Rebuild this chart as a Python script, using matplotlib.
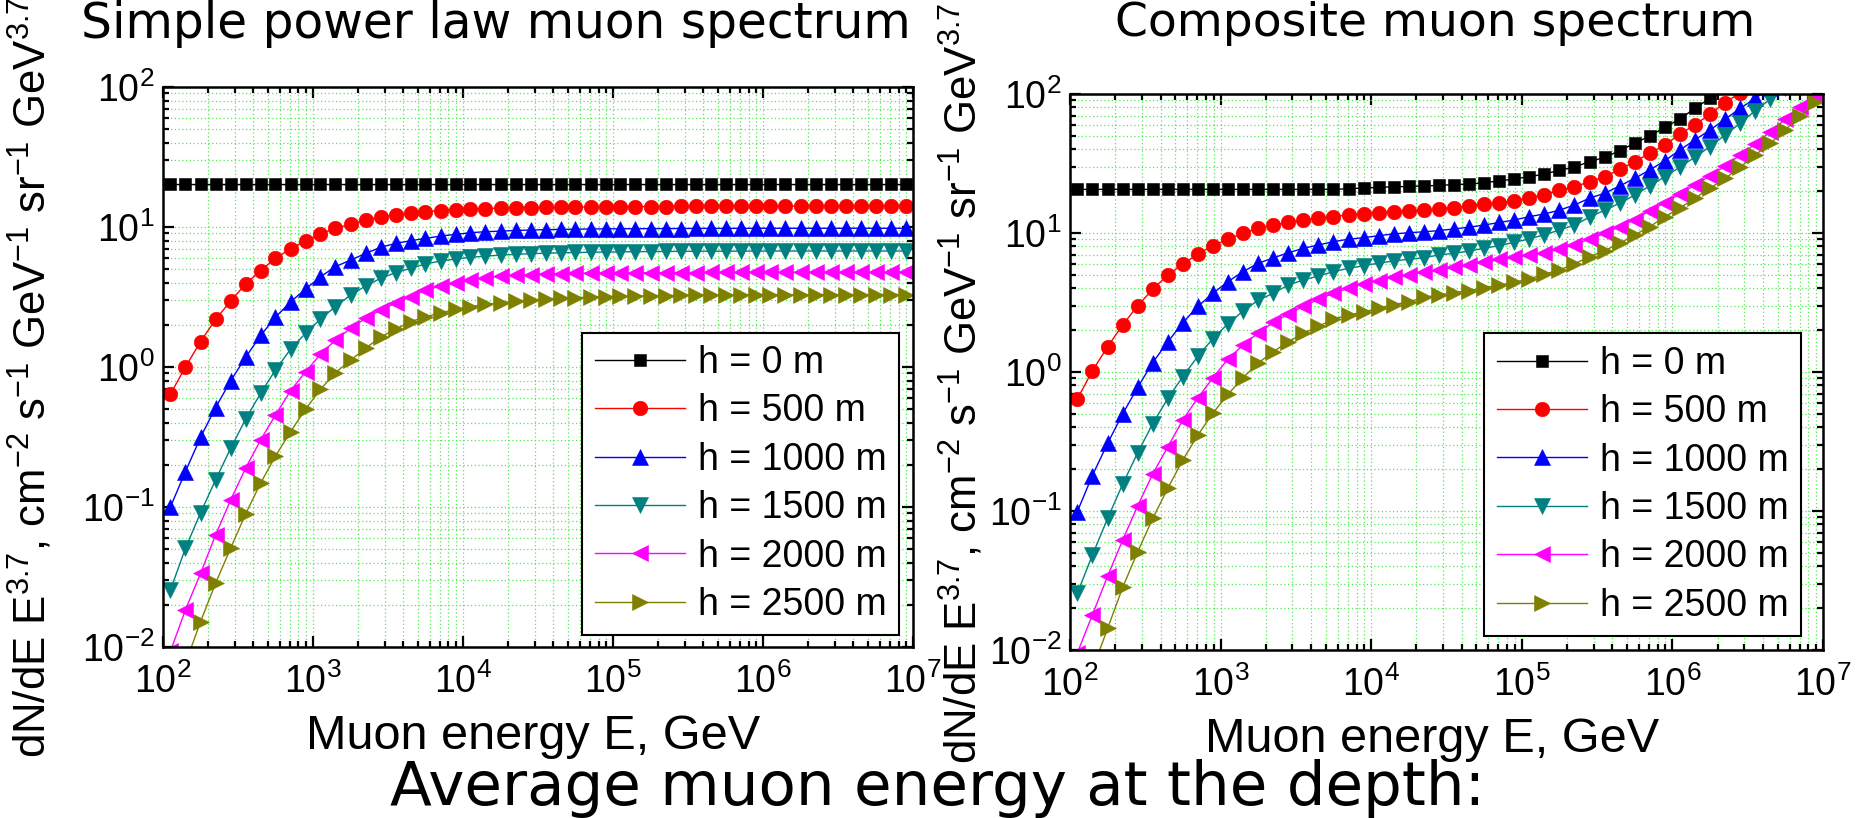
import matplotlib
matplotlib.use('Agg')
import matplotlib.pyplot as plt
from matplotlib.ticker import LogLocator, NullFormatter

plt.rcParams['font.family'] = ['Liberation Sans', 'DejaVu Sans']
plt.rcParams['mathtext.default'] = 'regular'
plt.rcParams['axes.unicode_minus'] = False

# muon energy at the depth, GeV (same grid for every curve)
energy = [
    1.12e2, 1.41e2, 1.78e2, 2.24e2, 2.82e2, 3.55e2, 4.47e2, 5.62e2, 7.08e2, 8.91e2,
    1.12e3, 1.41e3, 1.78e3, 2.24e3, 2.82e3, 3.55e3, 4.47e3, 5.62e3, 7.08e3, 8.91e3,
    1.12e4, 1.41e4, 1.78e4, 2.24e4, 2.82e4, 3.55e4, 4.47e4, 5.62e4, 7.08e4, 8.91e4,
    1.12e5, 1.41e5, 1.78e5, 2.24e5, 2.82e5, 3.55e5, 4.47e5, 5.62e5, 7.08e5, 8.91e5,
    1.12e6, 1.41e6, 1.78e6, 2.24e6, 2.82e6, 3.55e6, 4.47e6, 5.62e6, 7.08e6, 8.91e6,
]

depth_labels = ['h = 0 m', 'h = 500 m', 'h = 1000 m', 'h = 1500 m', 'h = 2000 m', 'h = 2500 m']

# simple power law spectrum, dN/dE * E^3.7
simple_h0 = [
    20.3, 20.3, 20.3, 20.3, 20.3, 20.3, 20.3, 20.3, 20.3, 20.3,
    20.3, 20.3, 20.3, 20.3, 20.3, 20.3, 20.3, 20.3, 20.3, 20.3,
    20.3, 20.3, 20.3, 20.3, 20.3, 20.3, 20.3, 20.3, 20.3, 20.3,
    20.3, 20.3, 20.3, 20.3, 20.3, 20.3, 20.3, 20.3, 20.3, 20.3,
    20.3, 20.3, 20.3, 20.3, 20.3, 20.3, 20.3, 20.3, 20.3, 20.3,
]
simple_h500 = [
    0.64, 1.00, 1.52, 2.19, 2.95, 3.92, 4.88, 5.97, 7.00, 7.98,
    8.95, 9.78, 10.5, 11.2, 11.8, 12.2, 12.6, 12.9, 13.1, 13.3,
    13.45, 13.55, 13.65, 13.7, 13.75, 13.8, 13.85, 13.9, 13.9, 13.95,
    13.95, 14.0, 14.0, 14.0, 14.05, 14.05, 14.05, 14.1, 14.1, 14.1,
    14.1, 14.1, 14.1, 14.1, 14.1, 14.1, 14.1, 14.1, 14.1, 14.1,
]
simple_h1000 = [
    0.100, 0.179, 0.315, 0.513, 0.795, 1.17, 1.68, 2.27, 2.92, 3.60,
    4.41, 5.21, 5.81, 6.48, 7.16, 7.64, 7.98, 8.30, 8.62, 8.86,
    9.11, 9.26, 9.35, 9.45, 9.52, 9.58, 9.62, 9.65, 9.68, 9.70,
    9.72, 9.73, 9.74, 9.75, 9.76, 9.77, 9.78, 9.78, 9.79, 9.79,
    9.80, 9.80, 9.80, 9.80, 9.80, 9.80, 9.80, 9.80, 9.80, 9.80,
]
simple_h1500 = [
    0.0255, 0.0507, 0.091, 0.156, 0.262, 0.423, 0.649, 0.953, 1.34, 1.74,
    2.20, 2.70, 3.27, 3.79, 4.30, 4.72, 5.07, 5.45, 5.72, 5.90,
    6.07, 6.20, 6.30, 6.38, 6.45, 6.50, 6.55, 6.58, 6.61, 6.63,
    6.65, 6.67, 6.68, 6.69, 6.70, 6.71, 6.72, 6.72, 6.73, 6.73,
    6.74, 6.74, 6.74, 6.74, 6.74, 6.74, 6.74, 6.74, 6.74, 6.74,
]
simple_h2000 = [
    0.0093, 0.0184, 0.0336, 0.063, 0.112, 0.189, 0.301, 0.454, 0.677, 0.925,
    1.23, 1.56, 1.89, 2.23, 2.55, 2.86, 3.18, 3.55, 3.79, 4.00,
    4.18, 4.34, 4.47, 4.54, 4.58, 4.61, 4.64, 4.66, 4.68, 4.69,
    4.70, 4.71, 4.72, 4.72, 4.73, 4.73, 4.74, 4.74, 4.74, 4.75,
    4.75, 4.75, 4.75, 4.75, 4.75, 4.75, 4.75, 4.75, 4.75, 4.75,
]
simple_h2500 = [
    0.0035, 0.0076, 0.0152, 0.0285, 0.0507, 0.089, 0.148, 0.231, 0.345, 0.499,
    0.693, 0.91, 1.12, 1.36, 1.64, 1.86, 2.11, 2.28, 2.44, 2.58,
    2.70, 2.80, 2.88, 2.96, 3.01, 3.06, 3.10, 3.13, 3.16, 3.18,
    3.20, 3.22, 3.23, 3.24, 3.25, 3.26, 3.27, 3.27, 3.28, 3.28,
    3.29, 3.29, 3.29, 3.29, 3.29, 3.29, 3.29, 3.29, 3.29, 3.29,
]

# composite spectrum (curves leave the frame at the top)
comp_h0 = [
    20.6, 20.6, 20.6, 20.6, 20.6, 20.6, 20.6, 20.6, 20.6, 20.6,
    20.6, 20.6, 20.6, 20.6, 20.6, 20.6, 20.6, 20.6, 20.8, 21.1,
    21.3, 21.5, 21.6, 21.8, 22.0, 22.3, 22.5, 23.0, 23.7, 24.5,
    25.4, 26.5, 28.3, 29.8, 32.6, 35.0, 39.1, 44.2, 49.9, 57.6,
    65.8, 78.9, 93.1, 110, 130,
]
comp_h500 = [
    0.64, 1.02, 1.52, 2.18, 3.00, 3.94, 4.99, 5.98, 7.06, 8.11,
    9.02, 9.96, 10.8, 11.4, 11.9, 12.4, 12.8, 13.1, 13.5, 13.8,
    14.0, 14.2, 14.4, 14.6, 14.9, 15.2, 15.6, 16.1, 16.5, 17.1,
    17.9, 18.85, 20.3, 21.5, 23.4, 25.4, 28.7, 32.6, 37.4, 42.9,
    51.5, 59.8, 71.8, 86.5, 102, 120,
]
comp_h1000 = [
    0.099, 0.180, 0.307, 0.499, 0.776, 1.17, 1.65, 2.26, 2.97, 3.68,
    4.47, 5.27, 6.05, 6.62, 7.21, 7.76, 8.20, 8.66, 9.02, 9.25,
    9.57, 9.84, 10.05, 10.2, 10.4, 10.7, 11.0, 11.4, 11.9, 12.4,
    13.1, 13.7, 14.6, 15.9, 17.8, 19.3, 21.8, 24.7, 28.4, 33.1,
    39.5, 46.7, 55.1, 65.8, 78.9, 93.1, 110,
]
comp_h1500 = [
    0.0256, 0.0482, 0.0885, 0.156, 0.263, 0.425, 0.647, 0.925, 1.30, 1.74,
    2.22, 2.74, 3.29, 3.68, 4.23, 4.59, 4.91, 5.27, 5.57, 5.82,
    6.06, 6.29, 6.47, 6.64, 6.95, 7.14, 7.42, 7.76, 8.11, 8.57,
    9.06, 9.70, 10.5, 11.4, 13.0, 14.6, 16.4, 18.7, 21.8, 25.4,
    29.7, 35.1, 41.8, 50.7, 61.5, 75.9, 91.6, 110,
]
comp_h2000 = [
    0.0095, 0.0179, 0.0340, 0.0618, 0.109, 0.185, 0.290, 0.452, 0.653, 0.908,
    1.24, 1.56, 1.91, 2.27, 2.61, 2.97, 3.33, 3.68, 4.00, 4.30,
    4.54, 4.80, 4.99, 5.22, 5.42, 5.66, 5.89, 6.15, 6.45, 6.70,
    6.95, 7.20, 7.65, 8.25, 9.02, 9.96, 11.1, 12.5, 14.5, 16.5,
    19.1, 22.1, 25.7, 30.3, 36.4, 43.6, 53.5, 65.8, 80.2, 98.4,
]
comp_h2500 = [
    0.0035, 0.0072, 0.0143, 0.0282, 0.0509, 0.0885, 0.146, 0.233, 0.352, 0.507,
    0.690, 0.910, 1.16, 1.40, 1.65, 1.90, 2.13, 2.40, 2.57, 2.70,
    2.88, 3.05, 3.20, 3.44, 3.58, 3.72, 3.85, 4.04, 4.21, 4.42,
    4.67, 5.05, 5.42, 6.00, 6.76, 7.46, 8.43, 9.68, 11.1, 13.1,
    15.1, 17.8, 21.0, 24.7, 29.7, 36.4, 44.2, 55.1, 69.5, 88.0,
]

simple_curves = [simple_h0, simple_h500, simple_h1000, simple_h1500, simple_h2000, simple_h2500]
comp_curves = [comp_h0, comp_h500, comp_h1000, comp_h1500, comp_h2000, comp_h2500]

colors = ['black', '#FF0000', '#0000FF', '#008080', '#FF00FF', '#808000']
markers = ['s', 'o', '^', 'v', '<', '>']
msizes = [9.2, 10.5, 12, 12, 12, 12]

ylab = 'dN/dE E$^{3.7}$, cm$^{-2}$ s$^{-1}$ GeV$^{-1}$ sr$^{-1}$ GeV$^{3.7}$'
xlab = 'Muon energy E, GeV'

fig = plt.figure(figsize=(18.63, 8.18), dpi=100)
ax1 = fig.add_axes([0.0875, 0.2090, 0.4026, 0.6846])
ax2 = fig.add_axes([0.5743, 0.2054, 0.4042, 0.6797])


def style_axes(ax):
    ax.set_xscale('log')
    ax.set_yscale('log')
    ax.set_xlim(1e2, 1e7)
    ax.set_ylim(1e-2, 1e2)
    for axis in (ax.xaxis, ax.yaxis):
        axis.set_major_locator(LogLocator(base=10, numticks=12))
        axis.set_minor_locator(LogLocator(base=10, subs=range(2, 10), numticks=60))
        axis.set_minor_formatter(NullFormatter())
    ax.grid(which='both', color='#55e855', linestyle=(0, (1, 2)), linewidth=0.9)
    ax.set_axisbelow(True)
    ax.tick_params(which='both', direction='in', top=True, right=True, width=1.6)
    ax.tick_params(which='major', length=8, labelsize=27)
    ax.tick_params(axis='x', which='major', pad=12)
    ax.tick_params(axis='y', which='major', pad=6)
    ax.tick_params(which='minor', length=4.5)
    for s in ax.spines.values():
        s.set_linewidth(1.8)


for ax, curves in [(ax1, simple_curves), (ax2, comp_curves)]:
    style_axes(ax)
    for ys, c, m, ms, lab in zip(curves, colors, markers, msizes, depth_labels):
        ax.plot(energy[:len(ys)], ys, color=c, marker=m, markersize=ms,
                markeredgewidth=0.4, linewidth=1, label=lab)
    ax.set_xlabel(xlab, fontsize=35)
    ax.set_ylabel(ylab, fontsize=31.5, va='center')

ax1.xaxis.set_label_coords(0.493, -0.12)
ax2.xaxis.set_label_coords(0.481, -0.12)
ax1.yaxis.set_label_coords(-0.176, 0.482)
ax2.yaxis.set_label_coords(-0.143, 0.48)

leg1 = ax1.legend(loc='lower right', bbox_to_anchor=(0.981, 0.021), fontsize=27,
                  fancybox=False, edgecolor='black', framealpha=1, handlelength=2.4,
                  handletextpad=0.35, labelspacing=0.33, borderpad=0.33, borderaxespad=0)
leg2 = ax2.legend(loc='lower right', bbox_to_anchor=(0.971, 0.025), fontsize=27,
                  fancybox=False, edgecolor='black', framealpha=1, handlelength=2.4,
                  handletextpad=0.35, labelspacing=0.33, borderpad=0.33, borderaxespad=0)
for leg in (leg1, leg2):
    leg.get_frame().set_linewidth(1.5)

fig.text(496 / 1863, 1 - 24 / 818, 'Simple power law muon spectrum', fontsize=35,
         family='DejaVu Sans', ha='center', va='center')
fig.text(1435 / 1863, 1 - 24 / 818, 'Composite muon spectrum', fontsize=34,
         family='DejaVu Sans', ha='center', va='center')
fig.text(938 / 1863, 1 - 805 / 818, 'Average muon energy at the depth:', fontsize=44,
         family='DejaVu Sans', ha='center', va='baseline')

fig.savefig('out.png', dpi=100)
